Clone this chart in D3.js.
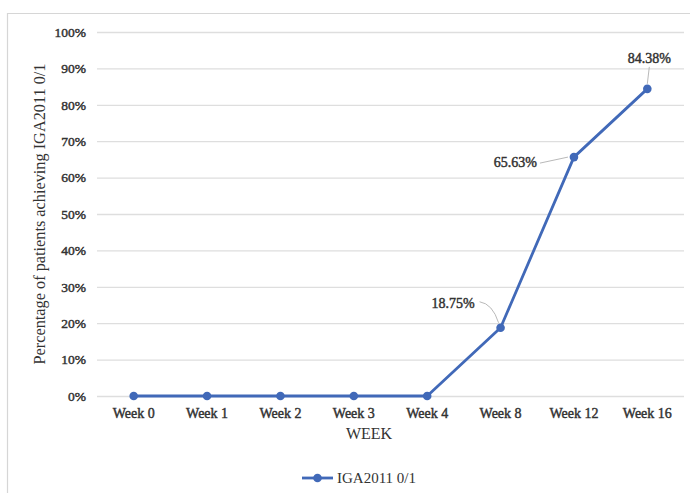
<!DOCTYPE html>
<html>
<head>
<meta charset="utf-8">
<script src="https://cdn.jsdelivr.net/npm/d3@7"></script>
<style>
  html, body { margin: 0; padding: 0; background: #fff; }
  svg { display: block; }
  text { font-family: "Liberation Serif", "Times New Roman", serif; fill: #333; }
  .heavy { stroke: #333; stroke-width: 0.45px; paint-order: stroke; }
</style>
</head>
<body>
<svg id="chart" width="690" height="493"></svg>
<script>
// Weekly response rates
const weeks = ["Week 0", "Week 1", "Week 2", "Week 3", "Week 4", "Week 8", "Week 12", "Week 16"];
const responseRate = [0, 0, 0, 0, 0, 18.75, 65.63, 84.38];
const yTicks = [0, 10, 20, 30, 40, 50, 60, 70, 80, 90, 100];
const seriesName = "IGA2011 0/1";
const labelledWeeks = ["Week 8", "Week 12", "Week 16"];

const svg = d3.select("#chart");
const W = 690, H = 493;
const margin = { left: 97, right: 6, top: 32, bottom: 97 };
const blue = "#4169b8";
const serif = '"Liberation Serif", "Times New Roman", serif';

// Chart frame
svg.append("path")
  .attr("d", `M7.5,${H} V13.5 H${W}`)
  .attr("fill", "none")
  .attr("stroke", "#d6d6d6")
  .attr("stroke-width", 1.2);

const x = d3.scaleBand().domain(weeks).range([margin.left, W - margin.right]);
const y = d3.scaleLinear().domain([0, 100]).range([H - margin.bottom, margin.top]);

// Horizontal gridlines and y axis labels
const yAxis = d3.axisLeft(y)
  .tickValues(yTicks)
  .tickFormat(d => d + "%")
  .tickSize(-(W - margin.right - margin.left))
  .tickPadding(11);
const gy = svg.append("g").attr("transform", `translate(${margin.left},0)`).call(yAxis)
  .attr("font-family", serif);
gy.select(".domain").remove();
gy.selectAll(".tick line").attr("stroke", "#dedede").attr("stroke-width", 1.3);
gy.selectAll(".tick text")
  .attr("font-size", 13.5)
  .attr("class", "heavy")
  .attr("fill", "#333");

// X axis labels
const xAxis = d3.axisBottom(x).tickSize(0).tickPadding(12);
const gx = svg.append("g").attr("transform", `translate(0,${y(0)})`).call(xAxis)
  .attr("font-family", serif);
gx.select(".domain").remove();
gx.selectAll(".tick text")
  .attr("font-size", 14)
  .attr("class", "heavy")
  .attr("fill", "#333");

// Axis titles
svg.append("text")
  .attr("x", 369)
  .attr("y", 439)
  .attr("text-anchor", "middle")
  .attr("font-size", 16)
  .text("WEEK");

svg.append("text")
  .attr("transform", `translate(45,${214}) rotate(-90)`)
  .attr("text-anchor", "middle")
  .attr("font-size", 16.3)
  .text("Percentage of patients achieving IGA2011 0/1");

// Series line and markers
const pts = weeks.map((w, i) => ({ w, v: responseRate[i] }));
const cx = d => x(d.w) + x.bandwidth() / 2;
const line = d3.line().x(cx).y(d => y(d.v));

svg.append("path")
  .datum(pts)
  .attr("d", line)
  .attr("fill", "none")
  .attr("stroke", blue)
  .attr("stroke-width", 2.8)
  .attr("stroke-linejoin", "round");

svg.selectAll("circle.pt")
  .data(pts)
  .join("circle")
  .attr("class", "pt")
  .attr("cx", cx)
  .attr("cy", d => y(d.v))
  .attr("r", 4.3)
  .attr("fill", blue);

// Data labels with leader lines (offsets relative to the point)
const labelPos = {
  "Week 8":  { tx: -26, ty: -20, anchor: "end",
               lead: p => `M${p.x - 21},${p.y - 26} Q${p.x - 8},${p.y - 24} ${p.x - 2},${p.y - 5}` },
  "Week 12": { tx: -37, ty: 10,  anchor: "end",
               lead: p => `M${p.x - 34},${p.y + 6} L${p.x - 6},${p.y}` },
  "Week 16": { tx: 2,   ty: -26, anchor: "middle",
               lead: p => `M${p.x + 2},${p.y - 22} L${p.x},${p.y - 5}` }
};
pts.filter(d => labelledWeeks.includes(d.w)).forEach(d => {
  const p = { x: cx(d), y: y(d.v) };
  const cfg = labelPos[d.w];
  svg.append("path")
    .attr("d", cfg.lead(p))
    .attr("fill", "none")
    .attr("stroke", "#b9b9b9")
    .attr("stroke-width", 1);
  svg.append("text")
    .attr("x", p.x + cfg.tx).attr("y", p.y + cfg.ty)
    .attr("text-anchor", cfg.anchor)
    .attr("font-size", 14)
    .attr("class", "heavy")
    .text(d.v.toFixed(2) + "%");
});

// Legend
const lg = svg.append("g").attr("transform", "translate(302,478)");
lg.append("line").attr("x1", 0).attr("x2", 31).attr("y1", 0).attr("y2", 0)
  .attr("stroke", blue).attr("stroke-width", 2.8);
lg.append("circle").attr("cx", 15.5).attr("cy", 0).attr("r", 4.3).attr("fill", blue);
lg.append("text").attr("x", 35).attr("y", 5)
  .attr("font-size", 15)
  .text(seriesName);
</script>
</body>
</html>
